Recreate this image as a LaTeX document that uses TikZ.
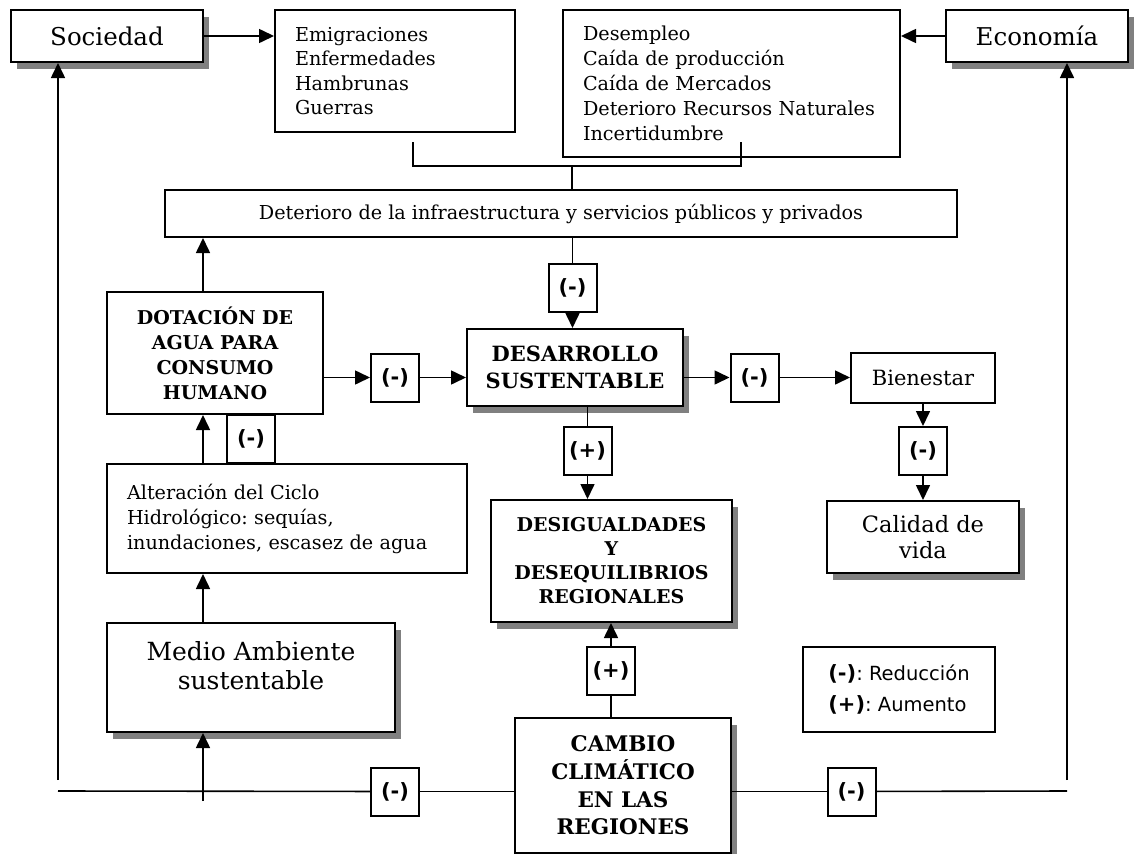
\documentclass[tikz,border=0pt]{standalone}
\usepackage{fontspec}
\setmainfont{DejaVu Serif}
\newfontfamily\signfont{DejaVu Sans}
\frenchspacing
\usetikzlibrary{arrows.meta,positioning,calc,shadows}

\tikzset{
  plainbox/.style={draw,rectangle,line width=2pt,fill=white,inner sep=0pt,align=center},
  shadebox/.style={plainbox,drop shadow={shadow xshift=6pt,shadow yshift=-6.5pt,fill=black!50,opacity=1}},
  signbox/.style={plainbox,minimum width=48pt,minimum height=48pt,font=\signfont\bfseries\fontsize{21}{25}\selectfont},
  line/.style={line width=1.6pt},
  arrow/.style={line width=1.6pt,-{Triangle[length=15pt,width=14pt]}},
}

\begin{document}
\begin{tikzpicture}[x=1pt,y=-1pt]
      \useasboundingbox (0,0) rectangle (1141,854);

      % top row
      \node[shadebox,minimum width=192pt,minimum height=52pt,font=\fontsize{24.5}{29}\selectfont] (soc) at (107,36) {Sociedad};
      \node[plainbox,align=left,text width=200pt,inner xsep=20pt,minimum height=122pt,font=\fontsize{19.2}{24.5}\selectfont] (emig) at (395,71) {Emigraciones\\Enfermedades\\Hambrunas\\Guerras};
      \node[plainbox,align=left,text width=297pt,inner xsep=20pt,minimum height=147pt,font=\fontsize{19.2}{25}\selectfont] (desem) at (731.5,83.5) {Desempleo\\Caída de producción\\Caída de Mercados\\Deterioro Recursos Naturales\\Incertidumbre};
      \node[shadebox,minimum width=182pt,minimum height=52pt,font=\fontsize{24.5}{29}\selectfont] (eco) at (1037,36) {Economía};

      \node[plainbox,minimum width=792pt,minimum height=47pt,font=\fontsize{19.2}{24}\selectfont] (det) at (561,213.5) {Deterioro de la infraestructura y servicios públicos y privados};

      % middle
      \node[plainbox,minimum width=216pt,minimum height=122pt,font=\bfseries\fontsize{19}{25}\selectfont] (dot) at (215,353) {DOTACIÓN DE\\AGUA PARA\\CONSUMO\\HUMANO};
      \node[signbox] (m1) at (395,377.5) {(-)};
      \node[signbox] (m2) at (572.5,288) {(-)};
      \node[shadebox,minimum width=216pt,minimum height=77pt,font=\bfseries\fontsize{21}{27}\selectfont] (des) at (575,367.5) {DESARROLLO\\SUSTENTABLE};
      \node[signbox] (m3) at (754.5,377.5) {(-)};
      \node[plainbox,minimum width=144pt,minimum height=50pt,font=\fontsize{21}{25}\selectfont] (bien) at (923,378) {Bienestar};
      \node[signbox] (m4) at (923,451) {(-)};
      \node[shadebox,minimum width=192pt,minimum height=72pt,font=\fontsize{22.5}{26}\selectfont] (cal) at (923,537) {Calidad de\\vida};

      \node[signbox] (m5) at (251,439) {(-)};
      \node[plainbox,align=left,text width=320pt,inner xsep=20pt,minimum height=109pt,font=\fontsize{19.2}{25}\selectfont] (alt) at (287,518.5) {Alteración del Ciclo\\Hidrológico: sequías,\\inundaciones, escasez de agua};
      \node[signbox] (p1) at (587.5,451) {(+)};
      \node[shadebox,minimum width=241pt,minimum height=122pt,font=\bfseries\fontsize{19}{24}\selectfont] (desig) at (611.5,561) {DESIGUALDADES\\Y\\DESEQUILIBRIOS\\REGIONALES};

      % bottom
      \node[shadebox,minimum width=288pt,minimum height=109pt,text depth=24pt,font=\fontsize{25}{29}\selectfont] (med) at (251,677.5) {Medio Ambiente\\sustentable};
      \node[signbox] (p2) at (611,671) {(+)};
      \node[shadebox,minimum width=216pt,minimum height=135pt,font=\bfseries\fontsize{21.5}{27.7}\selectfont] (cam) at (623,785.5) {CAMBIO\\CLIMÁTICO\\EN LAS\\REGIONES};
      \node[plainbox,align=left,minimum width=192pt,minimum height=85pt,font=\signfont\fontsize{19.5}{31}\selectfont] (leg) at (899,689.5) {{\bfseries\fontsize{21}{31}\selectfont(-)}: Reducción\\{\bfseries\fontsize{21}{31}\selectfont(+)}: Aumento};
      \node[signbox] (m6) at (395,791.5) {(-)};
      \node[signbox] (m7) at (851.5,791.5) {(-)};

      \coordinate (col) at (203,0);
      \coordinate (bl) at (413,142);
      \coordinate (br) at (741,142);
      \coordinate (jn) at (572,166);
      \coordinate (lv) at (58,780);
      \coordinate (rv) at (1067,780);
      \coordinate (lh) at (58,791);
      \coordinate (rh) at (1067,791);
      \coordinate (bs) at (203,801);

      \draw[arrow] (soc.east) -- (soc.east -| emig.west);
      \draw[arrow] (eco.west) -- (eco.west -| desem.east);
      \draw[line] (bl) |- (jn) -| (br);
      \draw[line] (jn) -- (jn |- det.north);

      \draw[line] (det.south -| m2) -- (m2);
      \draw[arrow] (m2) -- (m2 |- des.north);
      \draw[arrow] (col |- dot.north) -- (col |- det.south);
      \draw[arrow] (dot.east |- m1) -- (m1);
      \draw[arrow] (m1) -- (des.west |- m1);
      \draw[arrow] (des.east |- m3) -- (m3);
      \draw[arrow] (m3) -- (bien.west |- m3);
      \draw[arrow] (bien) -- (m4);
      \draw[arrow] (m4) -- (cal);

      \draw[line] (des.south -| p1) -- (p1);
      \draw[arrow] (p1) -- (p1 |- desig.north);
      \draw[line] (cam.north -| p2) -- (p2);
      \draw[arrow] (p2) -- (p2 |- desig.south);

      \draw[arrow] (col |- alt.north) -- (col |- dot.south);
      \draw[arrow] (col |- med.north) -- (col |- alt.south);
      \draw[arrow] (bs) -- (col |- med.south);

      \draw[line] (lh) -- (m6);
      \draw[line] (m6) -- (cam.west |- m6);
      \draw[line] (cam.east |- m7) -- (m7);
      \draw[line] (m7) -- (rh);
      \draw[arrow] (lv) -- (lv |- soc.south);
      \draw[arrow] (rv) -- (rv |- eco.south);

\end{tikzpicture}
\end{document}
